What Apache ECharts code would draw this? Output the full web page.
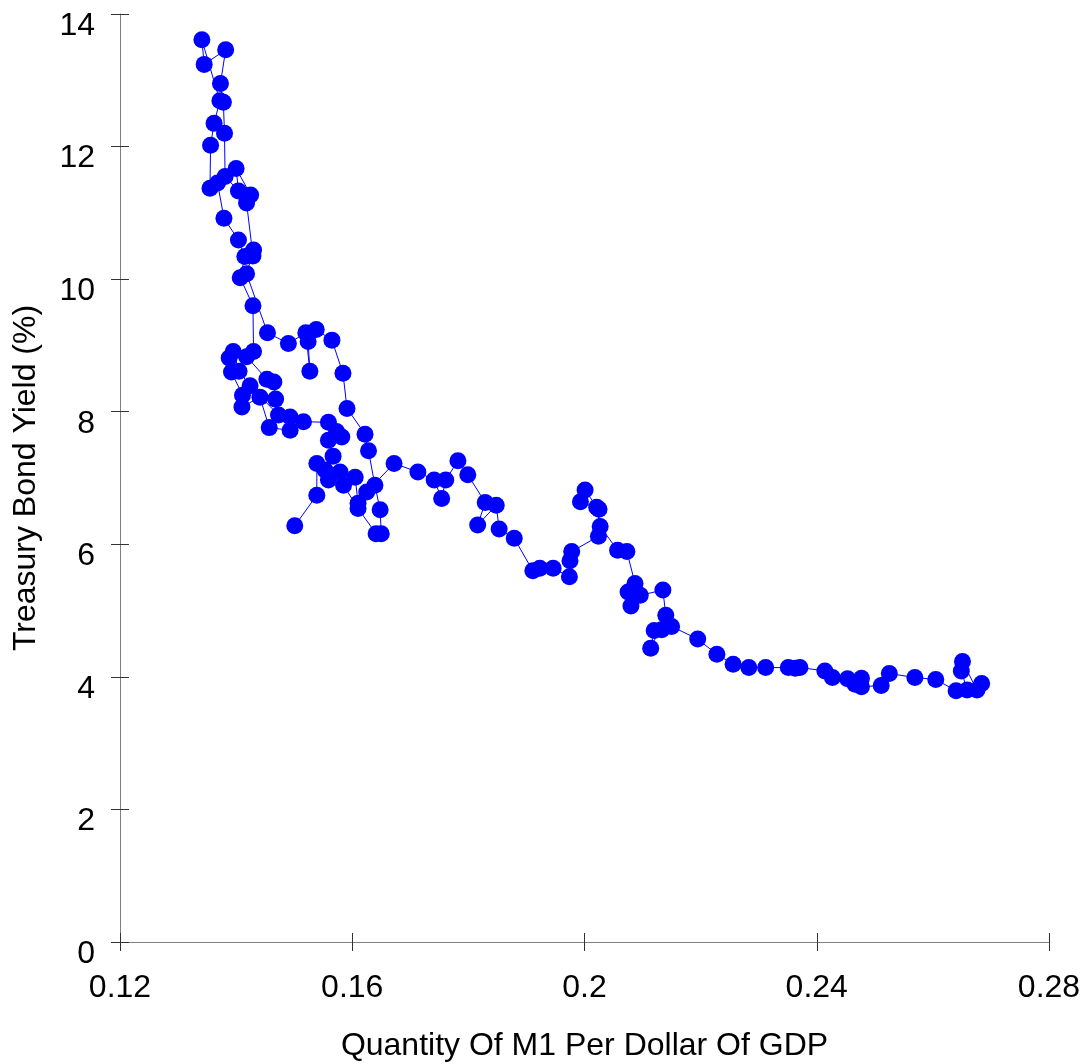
<!DOCTYPE html>
<html>
<head>
<meta charset="utf-8">
<title>Treasury Bond Yield vs M1 per Dollar of GDP</title>
<script src="https://cdn.jsdelivr.net/npm/echarts@6/dist/echarts.min.js"></script>
<style>
  html, body { margin: 0; padding: 0; background: #ffffff; }
  #chart { width: 1089px; height: 1064px; }
</style>
</head>
<body>
<div id="chart"></div>
<script>
// Quarterly observations, in time order: M1 per dollar of GDP and the Treasury bond yield (%).
const m1PerGdp = [
  0.2684, 0.2676, 0.2651, 0.2649, 0.2659, 0.2640, 0.2605, 0.2569, 0.2525, 0.2511,
  0.2477, 0.2477, 0.2466, 0.2453, 0.2427, 0.2414, 0.2371, 0.2363, 0.2351, 0.2312,
  0.2283, 0.2256, 0.2228, 0.2195,
  0.2150, 0.2133, 0.2120, 0.2114, 0.2140, 0.2135, 0.2096, 0.2080, 0.2075, 0.2087,
  0.2073, 0.2057, 0.2027, 0.2021, 0.2001, 0.1993, 0.2025, 0.2024, 0.1978, 0.1975,
  0.1974, 0.1946, 0.1923, 0.1911,
  0.1879, 0.1853, 0.1848, 0.1816, 0.1829, 0.1799, 0.1782, 0.1761, 0.1754, 0.1741,
  0.1713, 0.1672, 0.1625, 0.1610,
  0.1605, 0.1579, 0.1553, 0.1567, 0.1559, 0.1582, 0.1573, 0.1559, 0.1516, 0.1493,
  0.1493, 0.1457, 0.1441, 0.1410, 0.1411, 0.1392, 0.1388, 0.1395, 0.1405, 0.1424,
  0.1473, 0.1468, 0.1465, 0.1453, 0.1418, 0.1430,
  0.1429, 0.1407, 0.1415, 0.1404, 0.1379, 0.1368, 0.1355, 0.1356, 0.1362, 0.1372,
  0.1341, 0.1345, 0.1382, 0.1373, 0.1378, 0.1380, 0.1381, 0.1404, 0.1400, 0.1425,
  0.1418, 0.1429, 0.1430, 0.1418,
  0.1454, 0.1490, 0.1520, 0.1527, 0.1524, 0.1538, 0.1565, 0.1584, 0.1591, 0.1622,
  0.1628, 0.1639, 0.1648, 0.1650, 0.1641, 0.1610, 0.1585, 0.1559, 0.1539, 0.1539,
  0.1501
];
const bondYield = [
  3.90, 3.80, 4.23, 4.09, 3.80, 3.79, 3.96, 3.99, 4.05, 3.87,
  3.85, 3.98, 3.89, 3.97, 3.99, 4.09, 4.14, 4.13, 4.14, 4.14,
  4.14, 4.19, 4.34, 4.57,
  4.76, 4.71, 4.70, 4.43, 4.93, 5.31, 5.23, 5.07, 5.28, 5.41,
  5.89, 5.91, 6.27, 6.56, 6.82, 6.64, 6.53, 6.12, 5.89, 5.75,
  5.51, 5.64, 5.64, 5.60,
  6.09, 6.23, 6.59, 6.29, 6.63, 7.05, 7.26, 6.97, 6.69, 6.97,
  7.09, 7.22, 6.79, 6.62,
  7.01, 7.09, 7.12, 7.33, 7.57, 7.62, 7.70, 7.84, 7.85, 7.92,
  7.72, 7.76, 8.22, 8.07, 8.25, 8.60, 8.81, 8.91, 8.61, 8.39,
  7.95, 8.19, 8.45, 8.49, 8.83, 8.91,
  9.60, 10.02, 10.34, 10.59, 10.92, 11.45, 11.37, 12.02, 12.35, 12.69,
  13.61, 13.24, 13.46, 12.95, 12.67, 12.20, 11.55, 11.33, 11.67, 11.27,
  11.15, 10.35, 10.44, 10.08,
  9.19, 9.03, 9.19, 8.61, 9.06, 9.24, 9.08, 8.58, 8.05, 7.66,
  7.41, 6.89, 6.52, 6.16, 6.16, 6.54, 6.89, 6.97, 7.22, 6.74,
  6.28
];

// Axis tick values
const xTicks = [0.12, 0.16, 0.2, 0.24, 0.28];
const yTicks = [0, 2, 4, 6, 8, 10, 12, 14];

const FONT = '"Liberation Sans", Arial, Helvetica, sans-serif';
const AXIS_GREY = '#808080';
const TICK_DARK = '#333333';
const TEXT_SIZE = 32;

const points = m1PerGdp.map((x, i) => [x, bondYield[i]]);

const xRange = {
  type: 'value',
  min: xTicks[0],
  max: xTicks[xTicks.length - 1],
  interval: xTicks[1] - xTicks[0]
};
const yRange = {
  type: 'value',
  min: yTicks[0],
  max: yTicks[yTicks.length - 1],
  interval: yTicks[1] - yTicks[0]
};

const chart = echarts.init(document.getElementById('chart'), null, { renderer: 'canvas' });

chart.setOption({
  backgroundColor: '#ffffff',
  animation: false,
  textStyle: { fontFamily: FONT },
  grid: {
    left: 120, right: 40, top: 14, bottom: 122,
    containLabel: false,
    outerBoundsMode: 'none'
  },
  xAxis: [
    Object.assign({}, xRange, {
      position: 'bottom',
      name: 'Quantity Of M1 Per Dollar Of GDP',
      nameLocation: 'middle',
      nameGap: 88,
      nameTextStyle: { fontFamily: FONT, fontSize: TEXT_SIZE, color: '#000000' },
      axisLine: { show: true, lineStyle: { color: AXIS_GREY, width: 1 } },
      axisTick: { show: true, inside: false, length: 9, lineStyle: { color: TICK_DARK, width: 1 } },
      axisLabel: {
        show: true, margin: 30, fontSize: TEXT_SIZE, color: '#000000', fontFamily: FONT,
        formatter: v => String(+v.toFixed(2))
      },
      splitLine: { show: false }
    }),
    Object.assign({}, xRange, {
      position: 'bottom',
      axisLine: { show: false },
      axisTick: { show: true, inside: true, length: 9, lineStyle: { color: TICK_DARK, width: 1 } },
      axisLabel: { show: false },
      splitLine: { show: false }
    })
  ],
  yAxis: [
    Object.assign({}, yRange, {
      position: 'left',
      name: 'Treasury Bond Yield (%)',
      nameLocation: 'middle',
      nameGap: 78,
      nameTextStyle: { fontFamily: FONT, fontSize: TEXT_SIZE, color: '#000000' },
      axisLine: { show: true, lineStyle: { color: AXIS_GREY, width: 1 } },
      axisTick: { show: true, inside: false, length: 9, lineStyle: { color: TICK_DARK, width: 1 } },
      axisLabel: {
        show: true, margin: 25, fontSize: TEXT_SIZE, color: '#000000', fontFamily: FONT,
        verticalAlign: 'top', lineHeight: 24
      },
      splitLine: { show: false }
    }),
    Object.assign({}, yRange, {
      position: 'left',
      axisLine: { show: false },
      axisTick: { show: true, inside: true, length: 9, lineStyle: { color: TICK_DARK, width: 1 } },
      axisLabel: { show: false },
      splitLine: { show: false }
    })
  ],
  series: [
    {
      type: 'line',
      xAxisIndex: 0,
      yAxisIndex: 0,
      data: points,
      showSymbol: true,
      showAllSymbol: true,
      symbol: 'circle',
      symbolSize: 17,
      clip: false,
      lineStyle: { color: '#0000ff', width: 1 },
      itemStyle: { color: '#0000ff', borderWidth: 0 },
      emphasis: { disabled: true }
    }
  ]
});
</script>
</body>
</html>
